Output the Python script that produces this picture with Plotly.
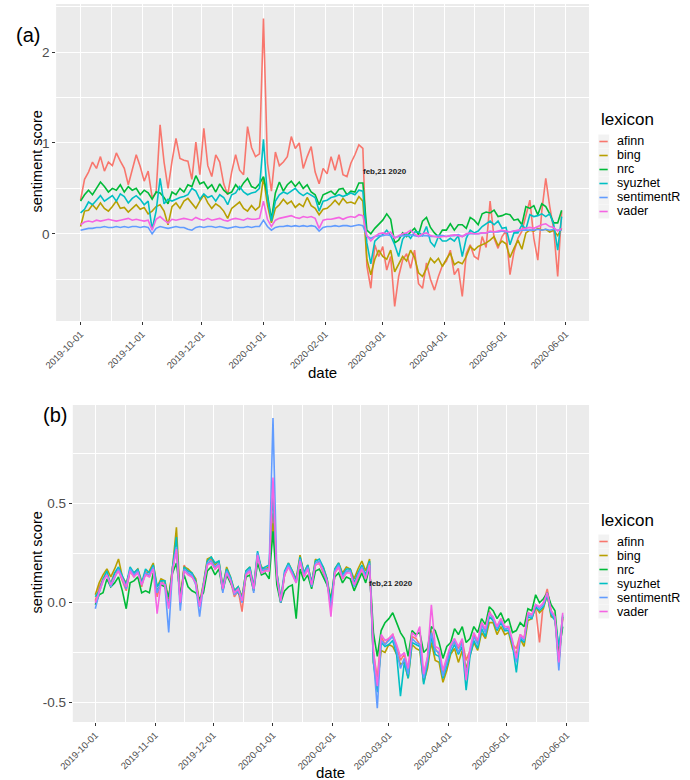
import pandas as pd
import plotly.graph_objects as go

# ---------------- data ----------------
dates = pd.date_range("2019-10-01", "2020-05-30", freq="2D")
lexicons = ["afinn", "bing", "nrc", "syuzhet", "sentimentR", "vader"]
colors = ["#F8766D", "#B79F00", "#00BA38", "#00BFC4", "#619CFF", "#F564E3"]

# panel (a): raw sentiment scores
afinn_a = [0.37, 0.60, 0.68, 0.79, 0.72, 0.85, 0.69, 0.79, 0.75, 0.89,
           0.80, 0.72, 0.54, 0.72, 0.87, 0.74, 0.58, 0.69, 0.40, 0.45,
           1.20, 0.79, 0.50, 0.80, 1.05, 0.83, 0.81, 0.80, 0.60, 1.01,
           0.65, 1.16, 0.75, 0.63, 0.87, 0.79, 0.55, 0.43, 0.68, 0.87,
           0.70, 0.65, 1.18, 0.95, 0.85, 0.88, 2.37, 0.78, 0.47, 0.90,
           0.75, 0.79, 0.85, 1.07, 0.94, 1.00, 0.72, 0.85, 0.96, 0.68,
           0.55, 0.72, 0.66, 0.85, 0.70, 0.87, 0.65, 0.63, 0.78, 0.87,
           0.98, 0.94, -0.35, -0.60, -0.12, -0.25, -0.14, -0.40, -0.25, -0.80,
           -0.47, -0.29, -0.22, -0.38, -0.18, -0.55, -0.60, -0.32, -0.50, -0.62,
           -0.47, -0.35, -0.30, -0.18, -0.45, -0.38, -0.69, -0.22, -0.12, -0.25,
           -0.28, -0.03, -0.15, 0.36, -0.05, -0.16, -0.03, 0.03, -0.45, -0.20,
           -0.05, 0.03, 0.20, 0.37, -0.05, -0.29, 0.25, 0.61, 0.30, 0.05,
           -0.47, 0.25]
bing_a = [0.08, 0.25, 0.26, 0.32, 0.27, 0.34, 0.28, 0.25, 0.30, 0.36,
          0.28, 0.29, 0.24, 0.28, 0.32, 0.27, 0.29, 0.22, 0.25, 0.30,
          0.32, 0.25, 0.10, 0.30, 0.34, 0.28, 0.36, 0.39, 0.33, 0.28,
          0.36, 0.43, 0.34, 0.28, 0.33, 0.30, 0.25, 0.17, 0.28, 0.31,
          0.35, 0.28, 0.25, 0.31, 0.26, 0.30, 0.62, 0.32, 0.12, 0.28,
          0.32, 0.38, 0.33, 0.36, 0.29, 0.33, 0.30, 0.40, 0.31, 0.28,
          0.21, 0.27, 0.28, 0.32, 0.37, 0.32, 0.39, 0.34, 0.35, 0.33,
          0.41, 0.36, -0.28, -0.45, -0.28, -0.18, -0.25, -0.28, -0.18, -0.42,
          -0.34, -0.25, -0.30, -0.18, -0.26, -0.43, -0.47, -0.38, -0.27, -0.32,
          -0.27, -0.36, -0.28, -0.21, -0.34, -0.31, -0.33, -0.25, -0.14, -0.18,
          -0.14, -0.12, -0.10, -0.07, -0.03, -0.13, -0.08, -0.11, -0.26, -0.16,
          -0.07, -0.17, 0.01, 0.04, 0.03, 0.06, 0.04, 0.05, 0.02, 0.04,
          -0.02, 0.06]
nrc_a = [0.36, 0.43, 0.48, 0.43, 0.50, 0.57, 0.52, 0.46, 0.50, 0.48,
         0.54, 0.46, 0.52, 0.48, 0.50, 0.43, 0.48, 0.45, 0.38, 0.46,
         0.45, 0.40, 0.33, 0.46, 0.43, 0.50, 0.46, 0.54, 0.52, 0.64,
         0.55, 0.57, 0.50, 0.54, 0.46, 0.55, 0.48, 0.44, 0.46, 0.54,
         0.49, 0.56, 0.61, 0.52, 0.50, 0.55, 0.63, 0.43, 0.16, 0.45,
         0.57, 0.47, 0.54, 0.58, 0.52, 0.57, 0.50, 0.54, 0.46, 0.43,
         0.32, 0.43, 0.45, 0.47, 0.43, 0.49, 0.50, 0.43, 0.47, 0.46,
         0.56, 0.56, 0.04, 0.00, 0.06, 0.10, 0.15, 0.22, 0.16, -0.10,
         -0.07, 0.01, -0.03, 0.02, 0.06, -0.01, 0.14, 0.18, 0.07, 0.01,
         -0.03, 0.04, 0.04, 0.11, 0.04, 0.10, 0.10, 0.06, 0.18, 0.15,
         0.10, 0.22, 0.24, 0.23, 0.26, 0.19, 0.20, 0.22, 0.21, 0.15,
         0.16, 0.10, 0.30, 0.28, 0.31, 0.21, 0.33, 0.30, 0.22, 0.12,
         0.12, 0.26]
syuzhet_a = [0.23, 0.27, 0.35, 0.32, 0.37, 0.42, 0.36, 0.39, 0.42, 0.36,
             0.44, 0.41, 0.34, 0.39, 0.42, 0.38, 0.32, 0.36, 0.05, 0.25,
             0.61, 0.33, 0.38, 0.36, 0.38, 0.40, 0.41, 0.43, 0.50, 0.47,
             0.38, 0.44, 0.40, 0.42, 0.36, 0.43, 0.40, 0.32, 0.43, 0.45,
             0.52, 0.46, 0.43, 0.45, 0.46, 0.50, 1.04, 0.40, 0.14, 0.36,
             0.43, 0.46, 0.44, 0.47, 0.50, 0.45, 0.42, 0.45, 0.42, 0.40,
             0.25, 0.36, 0.37, 0.40, 0.41, 0.43, 0.41, 0.43, 0.45, 0.43,
             0.48, 0.47, -0.10, -0.33, -0.08, -0.04, -0.01, 0.04, -0.02, -0.12,
             -0.25, -0.06, 0.00, -0.05, 0.02, 0.02, -0.02, 0.08, -0.09, -0.14,
             -0.03, -0.08, -0.08, -0.05, -0.08, -0.02, -0.25, -0.05, 0.04, 0.01,
             0.03, 0.08, 0.11, 0.14, 0.10, 0.14, 0.06, 0.07, -0.12, 0.01,
             0.01, 0.10, 0.05, 0.21, 0.19, 0.20, 0.22, 0.19, 0.22, 0.10,
             -0.18, 0.19]
sentimentR_a = [0.04, 0.05, 0.06, 0.06, 0.07, 0.07, 0.08, 0.07, 0.07, 0.08,
                0.07, 0.08, 0.07, 0.08, 0.08, 0.07, 0.08, 0.07, 0.00, 0.06,
                0.08, 0.07, 0.06, 0.07, 0.08, 0.07, 0.07, 0.05, 0.04, 0.07,
                0.08, 0.07, 0.08, 0.08, 0.07, 0.08, 0.07, 0.06, 0.07, 0.08,
                0.07, 0.07, 0.08, 0.07, 0.08, 0.08, 0.15, 0.08, 0.04, 0.07,
                0.08, 0.08, 0.09, 0.08, 0.09, 0.08, 0.09, 0.08, 0.09, 0.08,
                0.03, 0.07, 0.08, 0.08, 0.09, 0.08, 0.09, 0.09, 0.08, 0.09,
                0.10, 0.09, -0.03, -0.05, -0.03, -0.02, -0.02, -0.01, -0.02, -0.04,
                -0.03, -0.02, -0.02, -0.01, -0.02, -0.03, -0.02, -0.02, -0.03, -0.03,
                -0.02, -0.02, -0.03, -0.02, -0.02, -0.01, -0.03, -0.01, 0.00, 0.00,
                0.00, 0.01, 0.01, 0.02, 0.02, 0.02, 0.03, 0.02, 0.02, 0.03,
                0.03, 0.04, 0.04, 0.04, 0.04, 0.05, 0.04, 0.05, 0.04, 0.05,
                0.04, 0.04]
vader_a = [0.10, 0.13, 0.14, 0.13, 0.15, 0.14, 0.15, 0.16, 0.15, 0.14,
           0.15, 0.16, 0.17, 0.15, 0.16, 0.15, 0.14, 0.15, 0.04, 0.16,
           0.19, 0.15, 0.12, 0.16, 0.15, 0.16, 0.17, 0.16, 0.15, 0.18,
           0.16, 0.15, 0.17, 0.15, 0.16, 0.17, 0.15, 0.14, 0.16, 0.17,
           0.16, 0.15, 0.17, 0.16, 0.16, 0.17, 0.36, 0.16, 0.08, 0.15,
           0.17, 0.18, 0.19, 0.20, 0.18, 0.17, 0.19, 0.18, 0.19, 0.17,
           0.06, 0.15, 0.16, 0.16, 0.17, 0.18, 0.16, 0.18, 0.19, 0.18,
           0.21, 0.20, -0.02, -0.08, -0.03, 0.00, 0.01, 0.00, 0.02, -0.05,
           -0.02, 0.00, 0.01, 0.04, 0.00, -0.03, 0.00, 0.01, -0.02, -0.03,
           -0.04, -0.03, -0.03, -0.02, -0.01, -0.02, -0.03, 0.00, 0.01, 0.00,
           0.00, 0.01, 0.01, 0.03, 0.02, 0.03, 0.04, 0.03, 0.02, 0.03,
           0.04, 0.05, 0.06, 0.07, 0.06, 0.08, 0.10, 0.11, 0.08, 0.07,
           0.03, 0.06]

# panel (b): normalised sentiment scores
afinn_b = [0.01, 0.08, 0.12, 0.14, 0.10, 0.15, 0.16, 0.11, 0.06, 0.16,
           0.13, 0.17, 0.08, 0.16, 0.13, 0.19, 0.03, 0.11, 0.09, 0.02,
           0.18, 0.27, 0.00, 0.19, 0.15, 0.13, 0.11, -0.01, 0.08, 0.19,
           0.22, 0.17, 0.19, 0.06, 0.17, 0.11, 0.03, 0.06, -0.045, 0.14,
           0.16, 0.06, 0.24, 0.17, 0.16, 0.18, 0.45, 0.13, 0.00, 0.14,
           0.18, 0.16, 0.11, 0.21, 0.13, 0.17, 0.10, 0.19, 0.20, 0.15,
           0.10, -0.01, 0.15, 0.18, 0.12, 0.15, 0.17, 0.08, 0.13, 0.17,
           0.12, 0.19, -0.25, -0.38, -0.17, -0.21, -0.18, -0.16, -0.22, -0.29,
           -0.26, -0.34, -0.17, -0.18, -0.21, -0.36, -0.28, -0.14, -0.23, -0.26,
           -0.35, -0.29, -0.22, -0.20, -0.23, -0.19, -0.29, -0.24, -0.16, -0.20,
           -0.10, -0.14, -0.04, -0.09, -0.12, -0.08, -0.14, -0.12, -0.21, -0.23,
           -0.16, -0.18, -0.05, -0.06, -0.03, -0.20, 0.00, 0.07, -0.04, -0.07,
           -0.30, -0.08]
bing_b = [0.04, 0.10, 0.14, 0.17, 0.13, 0.17, 0.22, 0.13, 0.10, 0.16,
          0.15, 0.17, 0.11, 0.14, 0.16, 0.20, 0.08, 0.12, 0.11, 0.02,
          0.18, 0.38, 0.02, 0.18, 0.17, 0.15, 0.12, 0.00, 0.10, 0.22,
          0.23, 0.19, 0.21, 0.08, 0.18, 0.13, 0.06, 0.08, 0.03, 0.16,
          0.18, 0.08, 0.24, 0.18, 0.17, 0.18, 0.40, 0.15, 0.02, 0.14,
          0.20, 0.16, 0.12, 0.24, 0.15, 0.19, 0.10, 0.22, 0.20, 0.18,
          0.12, 0.01, 0.17, 0.20, 0.15, 0.18, 0.17, 0.12, 0.17, 0.21,
          0.16, 0.22, -0.30, -0.42, -0.24, -0.25, -0.21, -0.22, -0.26, -0.31,
          -0.30, -0.38, -0.21, -0.23, -0.24, -0.40, -0.33, -0.20, -0.29, -0.30,
          -0.40, -0.34, -0.26, -0.23, -0.30, -0.24, -0.33, -0.27, -0.20, -0.24,
          -0.15, -0.18, -0.10, -0.10, -0.16, -0.12, -0.16, -0.15, -0.23, -0.26,
          -0.18, -0.22, -0.09, -0.08, -0.02, -0.05, -0.03, 0.04, -0.07, -0.08,
          -0.30, -0.07]
nrc_b = [-0.01, 0.04, 0.05, 0.12, 0.08, 0.10, 0.13, 0.06, -0.03, 0.10,
         0.11, 0.13, 0.05, 0.06, 0.05, 0.15, 0.06, 0.09, 0.08, 0.03,
         0.15, 0.20, 0.04, 0.14, 0.08, 0.06, 0.05, 0.02, 0.05, 0.16,
         0.18, 0.14, 0.17, 0.06, 0.14, 0.10, 0.06, 0.05, 0.02, 0.13,
         0.14, 0.06, 0.20, 0.14, 0.15, 0.12, 0.36, 0.09, 0.00, 0.06,
         0.08, 0.09, -0.08, 0.17, 0.11, 0.14, 0.07, 0.16, 0.17, 0.13,
         0.09, 0.02, 0.13, 0.15, 0.10, 0.13, 0.12, 0.06, 0.11, 0.15,
         0.10, 0.18, -0.15, -0.27, -0.14, -0.10, -0.08, -0.05, -0.10, -0.15,
         -0.18, -0.27, -0.14, -0.16, -0.15, -0.25, -0.23, -0.12, -0.14, -0.20,
         -0.28, -0.22, -0.20, -0.13, -0.16, -0.12, -0.20, -0.18, -0.12, -0.15,
         -0.08, -0.11, -0.02, -0.04, -0.08, -0.05, -0.10, -0.08, -0.15, -0.14,
         -0.10, -0.12, -0.03, -0.04, 0.04, 0.00, 0.02, 0.05, -0.01, -0.04,
         -0.25, -0.12]
syuzhet_b = [0.03, 0.06, 0.12, 0.16, 0.09, 0.15, 0.18, 0.13, 0.09, 0.18,
             0.15, 0.17, 0.10, 0.17, 0.15, 0.19, 0.08, 0.11, 0.11, -0.02,
             0.18, 0.33, -0.01, 0.18, 0.16, 0.15, 0.11, -0.02, 0.10, 0.21,
             0.23, 0.20, 0.21, 0.08, 0.17, 0.13, 0.06, 0.08, 0.02, 0.16,
             0.18, 0.08, 0.26, 0.17, 0.18, 0.19, 0.55, 0.15, 0.02, 0.16,
             0.20, 0.16, 0.11, 0.23, 0.15, 0.19, 0.10, 0.21, 0.22, 0.18,
             0.12, -0.01, 0.17, 0.20, 0.14, 0.17, 0.17, 0.10, 0.15, 0.19,
             0.14, 0.21, -0.30, -0.45, -0.20, -0.22, -0.21, -0.19, -0.26, -0.47,
             -0.30, -0.38, -0.20, -0.21, -0.22, -0.41, -0.31, -0.17, -0.26, -0.27,
             -0.38, -0.32, -0.25, -0.21, -0.26, -0.22, -0.44, -0.27, -0.19, -0.23,
             -0.13, -0.17, -0.07, -0.09, -0.14, -0.10, -0.14, -0.14, -0.21, -0.35,
             -0.18, -0.20, -0.07, -0.08, -0.02, -0.04, -0.02, 0.04, -0.06, -0.09,
             -0.22, -0.07]
sentimentR_b = [-0.03, 0.05, 0.11, 0.14, 0.08, 0.13, 0.17, 0.12, 0.07, 0.17,
                0.14, 0.16, 0.09, 0.15, 0.14, 0.18, 0.05, 0.10, 0.09, -0.15,
                0.17, 0.28, -0.04, 0.17, 0.15, 0.14, 0.09, -0.07, 0.09, 0.20,
                0.21, 0.18, 0.20, 0.05, 0.16, 0.12, 0.04, 0.06, 0.00, 0.15,
                0.17, 0.05, 0.25, 0.16, 0.17, 0.17, 0.93, 0.14, 0.00, 0.15,
                0.19, 0.15, 0.10, 0.22, 0.14, 0.18, 0.08, 0.20, 0.21, 0.16,
                0.10, -0.03, 0.16, 0.19, 0.13, 0.16, 0.16, 0.08, 0.14, 0.18,
                0.13, 0.20, -0.28, -0.53, -0.19, -0.21, -0.19, -0.17, -0.24, -0.33,
                -0.28, -0.36, -0.18, -0.20, -0.21, -0.38, -0.29, -0.15, -0.24, -0.25,
                -0.37, -0.30, -0.23, -0.19, -0.25, -0.20, -0.36, -0.25, -0.17, -0.21,
                -0.11, -0.15, -0.05, -0.08, -0.13, -0.09, -0.13, -0.13, -0.20, -0.30,
                -0.17, -0.19, -0.06, -0.07, -0.01, -0.03, -0.01, 0.05, -0.05, -0.08,
                -0.34, -0.06]
vader_b = [0.00, 0.06, 0.11, 0.14, 0.09, 0.13, 0.16, 0.12, 0.08, 0.16,
           0.13, 0.15, 0.09, 0.14, 0.13, 0.17, -0.055, 0.10, 0.09, -0.03,
           0.16, 0.27, 0.00, 0.16, 0.14, 0.13, 0.10, -0.02, 0.09, 0.19,
           0.20, 0.17, 0.19, 0.07, 0.15, 0.11, 0.05, 0.07, 0.01, 0.14,
           0.16, 0.07, 0.24, 0.15, 0.16, 0.16, 0.63, 0.13, 0.01, 0.14,
           0.18, 0.14, 0.10, 0.21, 0.13, 0.17, 0.09, 0.19, 0.20, 0.16,
           0.11, -0.07, 0.15, 0.18, 0.12, 0.15, 0.15, 0.09, 0.13, 0.17,
           0.12, 0.19, -0.24, -0.42, -0.16, -0.19, -0.18, -0.16, -0.21, -0.27,
           -0.25, -0.33, -0.15, -0.17, -0.12, -0.36, -0.27, -0.01, -0.22, -0.23,
           -0.34, -0.28, -0.21, -0.18, -0.22, -0.18, -0.39, -0.23, -0.15, -0.19,
           -0.10, -0.13, -0.05, -0.07, -0.12, -0.08, -0.12, -0.12, -0.19, -0.28,
           -0.16, -0.18, -0.05, -0.06, -0.01, -0.02, 0.00, 0.05, -0.04, -0.07,
           -0.30, -0.05]

x_ticks = ["2019-10-01", "2019-11-01", "2019-12-01", "2020-01-01", "2020-02-01",
           "2020-03-01", "2020-04-01", "2020-05-01", "2020-06-01"]
y_ticks_a = [0, 1, 2]
y_ticktext_a = ["0", "1", "2"]
y_ticks_b = [-0.5, 0.0, 0.5]
y_ticktext_b = ["-0.5", "0.0", "0.5"]
event_label = "feb,21 2020"
event_date = "2020-03-02"

series_a = [afinn_a, bing_a, nrc_a, syuzhet_a, sentimentR_a, vader_a]
series_b = [afinn_b, bing_b, nrc_b, syuzhet_b, sentimentR_b, vader_b]

# ---------------- figure ----------------
W, H = 690, 780
FONT = "Liberation Sans, Arial, Helvetica, sans-serif"


def px(x):
    return x / W


def py(y):
    return 1 - y / H


fig = go.Figure()
for name, col, ya in zip(lexicons, colors, series_a):
    fig.add_trace(go.Scatter(x=dates, y=ya, mode="lines", name=name,
                             line=dict(color=col, width=1.6),
                             xaxis="x", yaxis="y", showlegend=False))
for name, col, yb in zip(lexicons, colors, series_b):
    fig.add_trace(go.Scatter(x=dates, y=yb, mode="lines", name=name,
                             line=dict(color=col, width=1.6),
                             xaxis="x2", yaxis="y2", showlegend=False))

xt = pd.to_datetime(x_ticks)
x_minor = [a + (b - a) / 2 for a, b in zip(xt[:-1], xt[1:])]


def xaxis_cfg(domain, anchor, rng):
    return dict(domain=domain, anchor=anchor, type="date", range=rng,
                tickvals=x_ticks, ticktext=x_ticks, tickangle=-45,
                tickfont=dict(size=9.5, color="#4D4D4D", family=FONT),
                showgrid=True, gridcolor="white", gridwidth=1.1,
                minor=dict(tickvals=x_minor, showgrid=True, gridcolor="white",
                           gridwidth=0.55, ticks=""),
                ticks="outside", ticklen=3, tickcolor="#333333", tickwidth=1,
                showline=False, zeroline=False, fixedrange=True)


def yaxis_cfg(domain, anchor, rng, vals, text, minor_vals):
    return dict(domain=domain, anchor=anchor, range=rng,
                tickvals=vals, ticktext=text,
                tickfont=dict(size=13.5, color="#4D4D4D", family=FONT),
                showgrid=True, gridcolor="white", gridwidth=1.1,
                minor=dict(tickvals=minor_vals, showgrid=True, gridcolor="white",
                           gridwidth=0.55, ticks=""),
                ticks="outside", ticklen=3, tickcolor="#333333", tickwidth=1,
                showline=False, zeroline=False, fixedrange=True)


fig.update_layout(
    width=W, height=H,
    margin=dict(l=0, r=0, t=0, b=0),
    paper_bgcolor="white", plot_bgcolor="#EBEBEB",
    font=dict(family=FONT, color="black"),
    xaxis=xaxis_cfg([px(43), px(587)], "y",
                    ["2019-09-18 17:00", "2020-06-12 19:00"]),
    yaxis=yaxis_cfg([py(321), py(4)], "x", [-0.96, 2.53],
                    y_ticks_a, y_ticktext_a, [-0.5, 0.5, 1.5, 2.5]),
    xaxis2=xaxis_cfg([px(60), px(587)], "y2",
                     ["2019-09-19 08:00", "2020-06-12 16:00"]),
    yaxis2=yaxis_cfg([py(722), py(405)], "x2", [-0.60, 0.995],
                     y_ticks_b, y_ticktext_b, [-0.25, 0.25, 0.75]),
)

annotations = []
shapes = []

# panel labels
annotations.append(dict(text="(a)", x=px(0), y=py(35), xref="paper", yref="paper",
                        xanchor="left", yanchor="middle", showarrow=False,
                        font=dict(size=20, color="black", family=FONT)))
annotations.append(dict(text="(b)", x=px(28), y=py(415), xref="paper", yref="paper",
                        xanchor="left", yanchor="middle", showarrow=False,
                        font=dict(size=20, color="black", family=FONT)))

# axis titles
for cx, cy in [(315, 372), (323, 772)]:
    annotations.append(dict(text="date", x=px(cx), y=py(cy), xref="paper", yref="paper",
                            xanchor="center", yanchor="middle", showarrow=False,
                            font=dict(size=15, color="black", family=FONT)))
for cx, cy in [(23, 162), (23, 563)]:
    annotations.append(dict(text="sentiment score", x=px(cx), y=py(cy), xref="paper",
                            yref="paper", xanchor="center", yanchor="middle",
                            textangle=-90, showarrow=False,
                            font=dict(size=14.5, color="black", family=FONT)))

# event labels
annotations.append(dict(text="<b>" + event_label + "</b>", x=event_date, y=0.69,
                        xref="x", yref="y", showarrow=False,
                        font=dict(size=8, color="#222222", family=FONT)))
annotations.append(dict(text="<b>" + event_label + "</b>", x=event_date, y=0.095,
                        xref="x2", yref="y2", showarrow=False,
                        font=dict(size=8, color="#222222", family=FONT)))

# manual legends (ggplot-style): one multi-line text block per legend,
# line pitch 14 px (base font 10.77 px * 1.3) with 12.5 px glyphs
PITCH = 14.0
legend_mids = [(119, 176.5), (520, 576.5)]
legend_text = "<br>".join('<span style="font-size:12.5px">' + n + "</span>"
                          for n in lexicons)
for title_y, mid in legend_mids:
    item_ys = [mid + (k - 2.5) * PITCH for k in range(len(lexicons))]
    annotations.append(dict(text="lexicon", x=px(597), y=py(title_y), xref="paper",
                            yref="paper", xanchor="left", yanchor="middle",
                            showarrow=False,
                            font=dict(size=17, color="black", family=FONT)))
    for name, col, iy in zip(lexicons, colors, item_ys):
        shapes.append(dict(type="rect", xref="paper", yref="paper",
                           x0=px(596.5), x1=px(607.5), y0=py(iy + PITCH / 2),
                           y1=py(iy - PITCH / 2),
                           fillcolor="#F2F2F2", line=dict(width=0), layer="above"))
        shapes.append(dict(type="line", xref="paper", yref="paper",
                           x0=px(597.5), x1=px(606), y0=py(iy), y1=py(iy),
                           line=dict(color=col, width=1.6), layer="above"))
    annotations.append(dict(text=legend_text, x=px(614), y=py(mid), xref="paper",
                            yref="paper", xanchor="left", yanchor="middle",
                            align="left", showarrow=False, borderpad=0,
                            font=dict(size=PITCH / 1.3, color="black", family=FONT)))

fig.update_layout(annotations=annotations, shapes=shapes)
fig.write_html("out.html")
